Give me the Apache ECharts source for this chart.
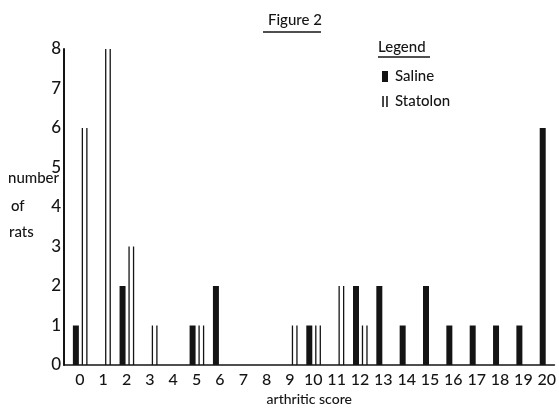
<!DOCTYPE html>
<html>
<head>
<meta charset="utf-8">
<script src="https://cdn.jsdelivr.net/npm/echarts@6/dist/echarts.min.js"></script>
<style>
  html, body { margin: 0; padding: 0; background: #fff; }
  #chart { width: 559px; height: 414px; }
</style>
</head>
<body>
<div id="chart"></div>
<script>
// arthritic score 0..20
const scores = [0, 1, 2, 3, 4, 5, 6, 7, 8, 9, 10, 11, 12, 13, 14, 15, 16, 17, 18, 19, 20];
const saline = [1, 0, 2, 0, 0, 1, 2, 0, 0, 0, 1, 0, 2, 2, 1, 2, 1, 1, 1, 1, 6];
const statolon = [6, 8, 3, 1, 0, 1, 0, 0, 0, 1, 1, 2, 1, 0, 0, 0, 0, 0, 0, 0, 0];
const yTicks = [0, 1, 2, 3, 4, 5, 6, 7, 8];

const ink = '#141414';
const font = 'Lato';

let myChart = echarts.init(document.getElementById('chart'));

// filled bar, sits just left of the score label
function renderSaline(params, api) {
  const v = api.value(1);
  if (!v) return;
  const top = api.coord([api.value(0), v]);
  const base = api.coord([api.value(0), 0]);
  return {
    type: 'rect',
    shape: { x: top[0] - 7, y: top[1], width: 6, height: base[1] - top[1] },
    style: { fill: ink },
  };
}

// open bar: two thin uprights just right of the label
function renderStatolon(params, api) {
  const v = api.value(1);
  if (!v) return;
  const top = api.coord([api.value(0), v]);
  const base = api.coord([api.value(0), 0]);
  const mk = dx => ({
    type: 'line',
    shape: { x1: top[0] + dx, y1: top[1], x2: top[0] + dx, y2: base[1] },
    style: { stroke: ink, lineWidth: 1.3 },
  });
  return { type: 'group', children: [mk(2.5), mk(7)] };
}

let option = {
  backgroundColor: '#fff',
  animation: false,
  textStyle: { fontFamily: font, color: ink },
  title: {
    text: 'Figure 2',
    left: 263,
    top: 8,
    textStyle: { fontFamily: font, fontSize: 15, fontWeight: 500, color: ink },
  },
  legend: {
    orient: 'vertical',
    left: 377,
    top: 64,
    itemWidth: 6,
    itemHeight: 11,
    itemGap: 10,
    textStyle: { fontFamily: font, fontSize: 15, fontWeight: 500, color: ink, padding: [0, 0, 0, 2] },
    data: [
      { name: 'Saline', icon: 'rect' },
      { name: 'Statolon', icon: 'path://M0,0h1.4v10h-1.4z M3.6,0h1.4v10h-1.4z' },
    ],
  },
  grid: { left: 64, right: 2, top: 49, bottom: 49 },
  xAxis: {
    type: 'value',
    min: -0.68,
    max: 20.33,
    splitLine: { show: false },
    axisTick: { show: false },
    axisLine: { lineStyle: { color: ink, width: 1.5 } },
    axisLabel: {
      customValues: scores,
      margin: 7,
      fontFamily: font,
      fontSize: 16,
      fontWeight: 500,
      color: ink,
    },
    name: 'arthritic score',
    nameLocation: 'middle',
    nameGap: 26,
    nameTextStyle: { fontFamily: font, fontSize: 14, fontWeight: 500, color: ink },
  },
  yAxis: {
    type: 'value',
    min: 0,
    max: 8,
    splitLine: { show: false },
    axisTick: { show: false },
    axisLine: { show: true, onZero: false, lineStyle: { color: ink, width: 2 } },
    axisLabel: {
      customValues: yTicks,
      margin: 3,
      fontFamily: font,
      fontSize: 17,
      fontWeight: 500,
      color: ink,
      padding: [0, 0, 9, 0],
    },
  },
  graphic: [
    { type: 'line', shape: { x1: 263, y1: 32, x2: 321, y2: 32 }, style: { stroke: ink, lineWidth: 1.5 } },
    { type: 'text', x: 378, y: 47, style: { text: 'Legend', font: '500 15px ' + font, fill: ink, verticalAlign: 'middle' } },
    { type: 'line', shape: { x1: 378, y1: 57, x2: 430, y2: 57 }, style: { stroke: ink, lineWidth: 1.5 } },
    { type: 'text', x: 8, y: 178, style: { text: 'number', font: '500 15px ' + font, fill: ink, verticalAlign: 'middle' } },
    { type: 'text', x: 11, y: 206, style: { text: 'of', font: '500 15px ' + font, fill: ink, verticalAlign: 'middle' } },
    { type: 'text', x: 9, y: 232, style: { text: 'rats', font: '500 15px ' + font, fill: ink, verticalAlign: 'middle' } },
  ],
  series: [
    {
      name: 'Saline',
      type: 'custom',
      renderItem: renderSaline,
      itemStyle: { color: ink },
      encode: { x: 0, y: 1 },
      data: scores.map((s, i) => [s, saline[i]]),
    },
    {
      name: 'Statolon',
      type: 'custom',
      renderItem: renderStatolon,
      itemStyle: { color: ink },
      encode: { x: 0, y: 1 },
      data: scores.map((s, i) => [s, statolon[i]]),
    },
  ],
};
myChart.setOption(option);
</script>
</body>
</html>
